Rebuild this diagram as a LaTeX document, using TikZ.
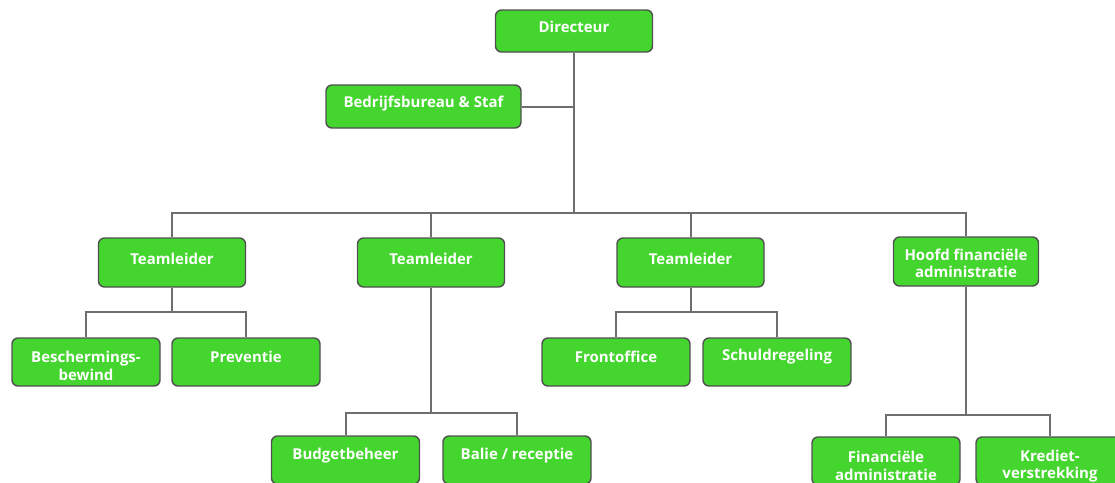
\documentclass[tikz,border=0pt]{standalone}
\usepackage{fontspec}
\setmainfont{Open Sans}
\definecolor{boxgreen}{RGB}{68,214,46}
\definecolor{boxedge}{RGB}{80,80,80}
\definecolor{linegray}{RGB}{110,110,110}
\tikzset{
  x=1pt, y=-1pt,
  box/.style={draw=boxedge, line width=1.4pt, fill=boxgreen, rounded corners=6pt,
    minimum width=148pt, minimum height=48pt, inner sep=0pt},
  txt/.style={text=white, font=\bfseries\fontsize{15}{17.5}\selectfont, align=center, inner sep=0pt},
  conn/.style={draw=linegray, line width=2pt},
}
\begin{document}
\begin{tikzpicture}
\useasboundingbox (0,0) rectangle (1115,482);
\clip (0,0) rectangle (1115,482);
% boxes
\node[box, minimum width=157pt, minimum height=42pt] (dir) at (574,31) {};
\node[box, minimum width=195pt, minimum height=43pt] (bed) at (423.5,106.5) {};
\node[box, minimum width=147pt, minimum height=49pt] (t1) at (172,262.5) {};
\node[box, minimum width=147pt, minimum height=49pt] (t2) at (431,262.5) {};
\node[box, minimum width=147pt, minimum height=49pt] (t3) at (690.5,262.5) {};
\node[box, minimum width=145pt, minimum height=49pt] (t4) at (966,261.5) {};
\node[box] (c11) at (86,362) {};
\node[box] (c12) at (246,362) {};
\node[box] (c31) at (616,362) {};
\node[box] (c32) at (777,362) {};
\node[box] (c21) at (345.5,460) {};
\node[box] (c22) at (517,460) {};
\node[box] (c41) at (886,461) {};
\node[box] (c42) at (1050,461) {};
% junctions
\coordinate (j0) at (574,213);
\coordinate (j1) at (172,312);
\coordinate (j2) at (431,413);
\coordinate (j3) at (690.5,312);
\coordinate (j4) at (966,415);
% connectors
\path[conn] (dir) -- (j0);
\path[conn] (bed) -- (bed -| j0);
\path[conn] (j0) -| (t1);
\path[conn] (j0) -| (t2);
\path[conn] (j0) -| (t3);
\path[conn] (j0) -| (t4);
\path[conn] (t1) -- (j1);
\path[conn] (j1) -| (c11);
\path[conn] (j1) -| (c12);
\path[conn] (t2) -- (j2);
\path[conn] (j2) -| (c21);
\path[conn] (j2) -| (c22);
\path[conn] (t3) -- (j3);
\path[conn] (j3) -| (c31);
\path[conn] (j3) -| (c32);
\path[conn] (t4) -- (j4);
\path[conn] (j4) -| (c41);
\path[conn] (j4) -| (c42);
% texts
\node[txt] (dirT) at ([yshift=4pt]dir.center) {Directeur};
\node[txt] (bedT) at ([yshift=3pt]bed.center) {Bedrijfsbureau \& Staf};
\node[txt] (t1T) at ([yshift=4pt]t1.center) {Teamleider};
\node[txt] (t2T) at ([yshift=4pt]t2.center) {Teamleider};
\node[txt] (t3T) at ([yshift=4pt]t3.center) {Teamleider};
\node[txt] (t4T) at ([yshift=-2pt]t4.center) {Hoofd financiële\\administratie};
\node[txt] (c11T) at ([yshift=-4pt]c11.center) {Beschermings-\\bewind};
\node[txt] (c12T) at ([yshift=5pt]c12.center) {Preventie};
\node[txt] (c31T) at ([yshift=5pt]c31.center) {Frontoffice};
\node[txt] (c32T) at ([yshift=5pt]c32.center) {Schuldregeling};
\node[txt] (c21T) at ([yshift=4pt]c21.center) {Budgetbeheer};
\node[txt] (c22T) at ([yshift=4pt]c22.center) {Balie / receptie};
\node[txt] (c41T) at ([yshift=-5pt]c41.center) {Financiële\\administratie};
\node[txt] (c42T) at ([yshift=-5pt]c42.center) {Krediet-\\verstrekking};
\end{tikzpicture}
\end{document}
